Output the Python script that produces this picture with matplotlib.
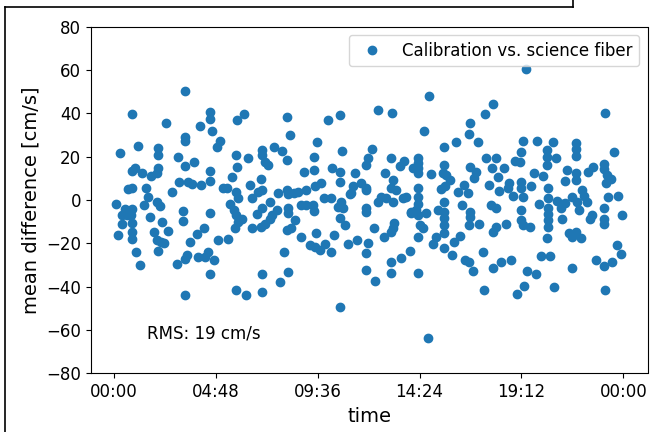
import numpy as np
import matplotlib
matplotlib.use("Agg")
from matplotlib import pyplot as plt
import matplotlib.dates as mdates
from matplotlib.ticker import MultipleLocator
from matplotlib.lines import Line2D

# time of day in hours
hours = [
    0.89, 2.46, 0.30, 1.16, 2.07, 2.07, 1.00, 0.86, 1.33, 1.77, 2.03, 2.11, 0.70, 0.86, 1.54, 1.60,
    1.41, 0.11, 0.55, 0.70, 0.89, 2.03, 2.19, 2.74, 0.39, 0.63, 0.83, 1.72, 0.39, 0.86, 2.27,
    0.20, 0.86, 1.88, 2.55, 0.86, 2.03, 2.22, 2.39, 1.05, 2.07, 1.25,
    3.37, 6.13, 5.79, 4.52, 4.52, 4.05, 4.65, 3.34, 3.34, 5.01, 4.85, 3.02, 3.79, 3.37, 5.74, 6.31,
    5.79, 4.52, 4.52, 5.56, 5.14, 5.32, 3.09, 3.52, 3.68, 4.12, 5.77, 5.87, 5.48, 6.42, 6.53, 5.69,
    5.77, 6.03, 5.84, 3.29, 3.29, 4.54, 5.71, 6.53, 4.27, 3.91, 3.60, 4.93, 5.40, 4.46, 4.30, 3.99,
    4.74, 3.44, 3.34, 2.97, 4.54, 3.34, 5.76, 6.21,
    8.17, 10.07, 8.29, 9.59, 7.56, 7.91, 6.97, 7.00, 7.12, 7.28, 8.18, 9.44, 9.44, 8.96, 10.30, 6.93,
    6.97, 6.81, 7.75, 8.18, 8.22, 8.50, 8.66, 9.08, 9.78, 9.47, 9.91, 10.22, 8.84, 9.08, 9.39, 9.44,
    7.36, 6.97, 6.73, 7.67, 7.47, 7.36, 8.22, 8.22, 7.12, 6.93, 8.56, 8.37, 8.18, 9.55, 8.81, 10.38,
    9.24, 9.47, 9.70, 9.97, 10.22, 8.03, 6.99, 6.97, 8.22, 7.83,
    10.64, 12.44, 13.10, 10.75, 12.16, 11.97, 11.89, 13.07, 13.69, 13.46, 14.08, 10.64, 10.64, 11.38,
    12.79, 13.15, 11.66, 11.27, 11.19, 11.11, 11.89, 11.89, 13.07, 13.30, 12.60, 12.83, 13.15, 13.62,
    13.77, 12.44, 10.72, 10.56, 10.80, 11.89, 11.89, 10.64, 10.88, 13.22, 13.15, 13.07, 12.26, 14.00,
    14.00, 11.03, 11.47, 11.97, 12.72, 11.89, 13.93, 13.54, 13.07, 11.89, 13.07, 12.32, 10.64,
    14.87, 14.60, 17.87, 17.48, 16.79, 16.71, 17.14, 16.12, 15.54, 14.35, 14.35, 14.35, 14.35, 14.95,
    15.54, 15.50, 15.65, 15.85, 15.42, 15.60, 16.79, 17.05, 16.95, 17.53, 17.80, 16.48, 16.20, 16.70,
    14.35, 14.35, 14.35, 16.39, 17.69, 17.76, 14.24, 14.32, 14.71, 15.26, 15.54, 15.54, 15.54, 15.54,
    16.79, 16.79, 16.74, 17.20, 14.40, 14.55, 14.32, 15.54, 15.18, 15.02, 16.32, 16.01, 15.57, 15.92,
    17.84, 16.54, 16.74, 16.90, 17.37, 14.35, 17.42, 17.84, 14.79,
    19.25, 19.95, 20.66, 20.42, 19.17, 18.89, 19.14, 20.39, 20.39, 20.82, 17.99, 18.39, 18.11, 19.77,
    20.23, 21.33, 21.24, 18.62, 18.55, 18.15, 18.78, 19.17, 19.17, 19.64, 19.25, 20.43, 20.43, 20.03,
    21.60, 20.89, 21.13, 21.05, 21.24, 17.99, 19.17, 20.43, 20.43, 19.17, 19.25, 19.61, 18.47, 20.43,
    20.43, 21.13, 17.99, 21.44, 21.60, 20.39, 18.23, 18.73, 20.14, 20.55, 19.48, 19.88, 19.33, 19.01,
    20.74, 21.60, 19.41,
    23.12, 23.55, 21.75, 21.75, 21.75, 23.08, 23.08, 23.24, 23.40, 23.16, 22.33, 22.58, 21.75, 21.75,
    22.07, 22.14, 22.30, 21.80, 21.91, 23.27, 23.74, 23.08, 23.94, 22.53, 22.43, 23.08, 23.08, 21.75,
    21.99, 23.68, 23.87, 22.69, 23.08, 23.47, 23.12,
]

# mean difference in cm/s
diff = [
    39.5, 35.7, 21.8, 25.0, 23.8, 21.0, 15.0, 13.5, 12.5, 11.2, 12.3, 14.6, 4.9, 5.7, 5.4, 1.5,
    -2.3, -1.8, -4.3, -4.9, -4.2, -0.8, -3.0, 3.8, -6.9, -6.9, -6.9, -8.0, -11.2, -10.5, -10.0,
    -16.0, -14.6, -14.6, -14.3, -18.0, -18.5, -19.5, -20.0, -23.8, -23.5, -30.0,
    50.3, 39.5, 36.9, 40.5, 37.4, 34.2, 31.8, 29.2, 27.2, 27.2, 24.6, 20.0, 17.7, 15.8, 20.8, 19.2,
    15.4, 13.4, 8.8, 10.8, 5.7, 5.4, 8.2, 8.2, 7.4, 6.9, 3.8, 0.8, -2.0, 6.9, 0.8, -4.6,
    -6.9, -8.8, -10.0, -5.0, -9.5, -6.2, -13.0, -13.0, -12.8, -15.7, -19.2, -18.5, -18.0, -23.8, -26.2, -26.5,
    -27.7, -25.4, -27.2, -29.7, -34.2, -43.8, -41.5, -43.8,
    38.5, 36.9, 30.0, 26.6, 24.6, 22.6, 23.0, 20.8, 17.7, 16.2, 18.5, 20.0, 13.8, 13.1, 14.6, 9.7,
    4.6, 3.8, 3.4, 4.6, 2.6, 3.1, 3.8, 4.6, 7.7, 6.6, 1.1, 1.1, -2.3, -2.3, -2.3, -5.0,
    -0.8, -3.5, -6.5, -4.6, -6.9, -8.8, -3.5, -6.2, -11.0, -12.3, -9.2, -12.8, -13.8, -15.4, -16.9, -16.2,
    -20.8, -21.5, -23.0, -20.5, -23.8, -23.8, -34.2, -42.3, -33.4, -38.0,
    39.2, 41.5, 40.0, 22.6, 23.4, 19.2, 16.2, 19.5, 18.0, 15.7, 14.9, 13.1, 8.5, 12.3,
    12.3, 9.2, 7.7, 6.5, 3.1, 2.6, 5.4, 4.6, 5.4, 4.6, 1.5, 0.8, -0.8, 0.8,
    1.5, -0.8, -0.8, -3.1, -3.8, -3.8, -5.7, -8.5, -11.5, -10.8, -13.0, -14.6, -13.0, -6.2,
    -5.4, -20.5, -18.5, -20.0, -16.9, -24.3, -23.5, -26.9, -28.8, -32.3, -33.5, -37.4, -49.2,
    48.0, 31.8, 44.2, 39.5, 35.4, 30.3, 26.6, 26.6, 24.6, 19.5, 16.9, 14.6, 12.3, 11.8,
    16.2, 12.3, 11.5, 9.2, 4.9, 6.5, 15.4, 13.1, 10.0, 19.5, 14.6, 6.9, 3.8, 3.1,
    5.4, 1.5, -2.0, -2.3, 6.9, -2.3, -4.6, -6.9, -6.2, -4.6, -0.8, -5.4, -8.5, -11.5,
    -5.4, -7.7, -11.5, -11.2, -11.5, -12.8, -16.9, -15.4, -16.9, -20.5, -16.6, -19.5, -22.0, -25.4,
    -14.6, -27.7, -28.8, -33.0, -24.2, -33.8, -41.5, -31.5, -63.8,
    27.2, 27.2, 26.6, 23.0, 22.3, 18.0, 17.4, 20.0, 16.2, 19.2, 19.2, 14.6, 10.8, 12.3,
    11.2, 13.8, 8.8, 7.7, 5.4, 4.2, 1.8, 8.5, 5.4, 6.6, 1.5, 5.7, 0.8, -2.0,
    1.5, -0.5, -2.0, -3.8, -1.5, -3.8, -4.6, -3.8, -6.6, -9.2, -11.5, -12.3, -11.2, -9.2,
    -12.3, -8.8, -12.3, -15.4, -16.9, -17.7, -28.8, -27.7, -25.7, -25.7, -32.8, -34.2, -39.5, -43.4,
    -40.3, -31.5, 60.5,
    40.0, 22.3, 26.2, 23.5, 20.5, 16.5, 14.3, 11.5, 9.7, 7.7, 12.8, 15.1, 12.3, 9.2,
    4.6, 2.0, -0.8, -0.8, -4.6, 1.5, 2.0, -3.5, -6.9, -6.9, -8.8, -8.8, -11.2, -14.6,
    -17.7, -20.8, -25.0, -27.7, -30.5, -28.8, -41.5,
]

rms_text = "RMS: 19 cm/s"

# x as fraction of a day, so the date formatter shows HH:MM
t = np.array(hours) / 24.0

fig = plt.figure(figsize=(6.58, 4.32), dpi=100)
ax = fig.add_axes([90.6 / 658, 1 - 373.3 / 432, (647.5 - 90.6) / 658, (373.3 - 26.7) / 432])

ax.plot(t, diff, 'o', color='#1f77b4', markersize=6, label='Calibration vs. science fiber')
ax.set_ylim(-80, 80)
ax.xaxis.set_major_locator(MultipleLocator(0.2))
ax.xaxis.set_major_formatter(mdates.DateFormatter('%H:%M'))
ax.tick_params(labelsize=12)
ax.set_xlabel('time', fontsize=14)
ax.set_ylabel('mean difference [cm/s]', fontsize=14)
ax.text(1.58 / 24, -61.5, rms_text, fontsize=12, va='center')
ax.legend(loc='upper right', fontsize=12)

# frame of the screenshot
fig.add_artist(Line2D([5 / 658, 5 / 658], [0, 1 - 7 / 432], color='black', lw=1.2))
fig.add_artist(Line2D([5 / 658, 573 / 658], [1 - 7 / 432, 1 - 7 / 432], color='black', lw=1.2))
fig.add_artist(Line2D([573 / 658, 573 / 658], [1 - 7 / 432, 1], color='black', lw=1.2))

fig.savefig('out.png', dpi=100)
